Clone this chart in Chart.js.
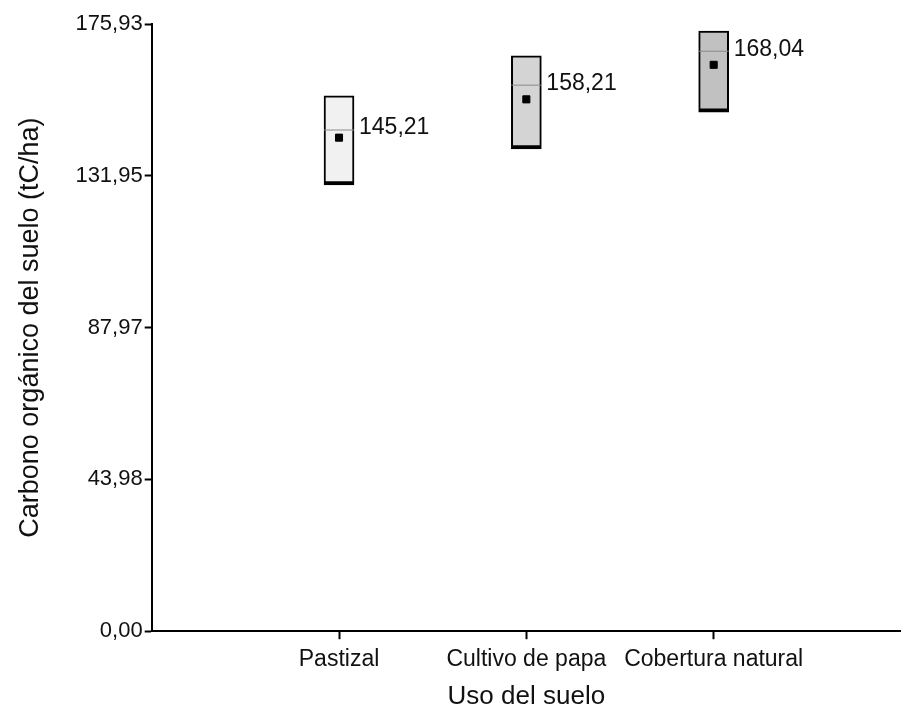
<!DOCTYPE html>
<html>
<head>
<meta charset="utf-8">
<script src="https://cdn.jsdelivr.net/npm/chart.js@4.4.0/dist/chart.umd.min.js"></script>
<style>
  html, body { margin: 0; padding: 0; background: #fff; }
  #wrap { width: 901px; height: 713px; }
</style>
</head>
<body>
<div id="wrap"><canvas id="box-chart" width="901" height="713"></canvas></div>
<script>
// categories (empty slots at both ends keep the axis span like the original)
const usos = ['', 'Pastizal', 'Cultivo de papa', 'Cobertura natural', ''];
const minimos = [null, 129.3, 139.7, 150.4, null];
const maximos = [null, 155.1, 166.7, 173.9, null];
const medianas = [null, 145.21, 158.21, 168.04, null];
const medias = [null, 143.0, 154.1, 164.1, null];
const rellenos = ['#fff', '#f1f1f1', '#d4d4d4', '#c1c1c1', '#fff'];
const yTicks = [0, 43.98, 87.97, 131.95, 175.93];

const fmt = (v) => v.toFixed(2).replace('.', ',');
const FONT = 'Liberation Sans, Arial, sans-serif';

// median line + its label
const medianPlugin = {
  id: 'medianas',
  afterDatasetsDraw(chart) {
    const ctx = chart.ctx;
    const x = chart.scales.x, y = chart.scales.y;
    const meta = chart.getDatasetMeta(0);
    ctx.save();
    medianas.forEach((m, i) => {
      if (m == null) return;
      const bar = meta.data[i];
      const half = bar.width / 2;
      const cx = x.getPixelForValue(i);
      const py = y.getPixelForValue(m);
      ctx.strokeStyle = '#8a8a8a';
      ctx.lineWidth = 1;
      ctx.beginPath();
      ctx.moveTo(cx - half, py);
      ctx.lineTo(cx + half, py);
      ctx.stroke();
      ctx.fillStyle = '#111';
      ctx.font = '23px ' + FONT;
      ctx.textBaseline = 'middle';
      ctx.textAlign = 'left';
      ctx.fillText(fmt(m), cx + half + 5, py - 2);
    });
    ctx.restore();
  }
};

new Chart(document.getElementById('box-chart'), {
  type: 'bar',
  data: {
    labels: usos,
    datasets: [
      {
        data: minimos.map((v, i) => (v == null ? null : [v, maximos[i]])),
        backgroundColor: rellenos,
        borderColor: '#000',
        borderWidth: { top: 2, left: 2, right: 2, bottom: 4 },
        borderSkipped: false,
        barThickness: 30,
        order: 2
      },
      {
        type: 'line',
        data: medias,
        showLine: false,
        pointStyle: 'rect',
        pointRadius: 5,
        pointBackgroundColor: '#000',
        pointBorderColor: '#000',
        pointBorderWidth: 1,
        order: 1
      }
    ]
  },
  options: {
    responsive: false,
    animation: false,
    layout: { autoPadding: false, padding: { top: 24, right: 0, left: 10, bottom: -3 } },
    plugins: {
      legend: { display: false },
      tooltip: { enabled: false }
    },
    scales: {
      x: {
        offset: false,
        afterFit: (s) => { s.paddingRight = 0; },
        grid: {
          offset: false,
          drawOnChartArea: false,
          drawTicks: true,
          tickLength: 8,
          tickWidth: 2,
          tickColor: (c) => (usos[c.index] ? '#000' : 'rgba(0,0,0,0)')
        },
        border: { color: '#000', width: 2 },
        ticks: {
          color: '#111',
          font: { family: FONT, size: 23 },
          maxRotation: 0,
          autoSkip: false,
          padding: 7
        },
        title: {
          display: true,
          text: 'Uso del suelo',
          color: '#111',
          font: { family: FONT, size: 26 },
          padding: { top: 0 }
        }
      },
      y: {
        min: 0,
        max: 175.93,
        afterBuildTicks: (s) => { s.ticks = yTicks.map((v) => ({ value: v })); },
        grid: {
          drawOnChartArea: false,
          drawTicks: true,
          tickLength: 7,
          tickWidth: 2,
          tickColor: '#000'
        },
        border: { color: '#000', width: 2 },
        ticks: {
          color: '#111',
          font: { family: FONT, size: 22 },
          padding: 2,
          callback: (v) => fmt(v)
        },
        title: {
          display: true,
          text: 'Carbono orgánico del suelo (tC/ha)',
          color: '#111',
          font: { family: FONT, size: 27 },
          padding: { bottom: 27 }
        }
      }
    }
  },
  plugins: [medianPlugin]
});
</script>
</body>
</html>
